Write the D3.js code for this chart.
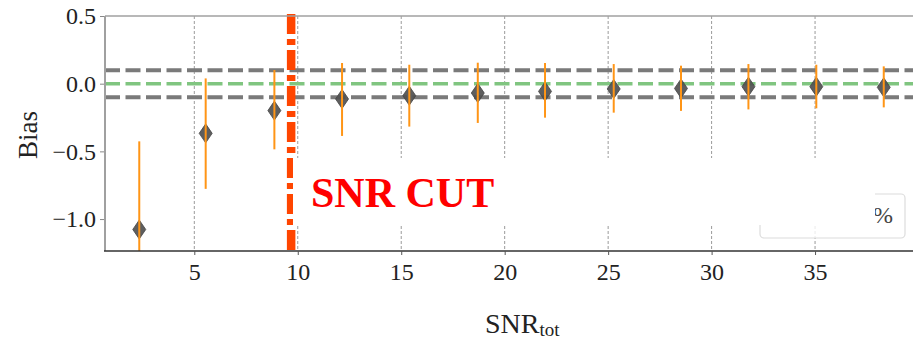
<!DOCTYPE html>
<html><head><meta charset="utf-8">
<script src="https://cdn.jsdelivr.net/npm/d3@7"></script>
<style>
html,body{margin:0;padding:0;background:#fff;}
svg{display:block;}
svg text{font-family:"Liberation Serif","DejaVu Serif",serif !important;}
</style></head>
<body><svg id="chart" width="913" height="343"></svg>
<script>
// ---- data ----
const snrTot = [2.34, 5.55, 8.87, 12.14, 15.39, 18.70, 21.95, 25.27, 28.52, 31.78, 35.06, 38.32];
const biasMean = [-1.077, -0.367, -0.199, -0.113, -0.089, -0.069, -0.057, -0.039, -0.035, -0.022, -0.022, -0.027];
const biasHigh = [-0.426, 0.039, 0.101, 0.153, 0.140, 0.155, 0.153, 0.145, 0.133, 0.145, 0.140, 0.128];
const biasLow = [-1.73, -0.777, -0.485, -0.386, -0.317, -0.290, -0.251, -0.214, -0.201, -0.190, -0.182, -0.175];
const xTickValues = [5, 10, 15, 20, 25, 30, 35];
const yTickValues = [-1.0, -0.5, 0.0, 0.5];
const toleranceLines = [-0.1, 0.1];
const zeroLine = [0.0];
const snrCut = [9.68];
const cutLabel = "SNR CUT";
const legendText = "%";

// ---- layout ----
const svg = d3.select("#chart");
const L = 105, R = 915, T = 16, B = 251;
const x = d3.scaleLinear().domain([0.684, 39.83]).range([L, R]);
const y = d3.scaleLinear().domain([-1.236, 0.5]).range([B, T]);
const serif = "'Liberation Serif','DejaVu Serif',serif";

svg.append("defs").append("clipPath").attr("id","clip")
  .append("rect").attr("x", L).attr("y", T - 3).attr("width", R - L).attr("height", B - T + 3);

// vertical grid
svg.append("g").selectAll("line").data(xTickValues).join("line")
  .attr("x1", d => x(d)).attr("x2", d => x(d))
  .attr("y1", T).attr("y2", B)
  .attr("stroke", "#9a9a9a").attr("stroke-width", 1).attr("stroke-dasharray", "3,2");

const plot = svg.append("g").attr("clip-path", "url(#clip)");

// tolerance lines
plot.selectAll(".tol").data(toleranceLines).join("line")
  .attr("x1", L).attr("x2", R).attr("y1", d => y(d)).attr("y2", d => y(d))
  .attr("stroke", "#7a7a7a").attr("stroke-width", 4).attr("stroke-dasharray", "15,5.5");
plot.selectAll(".zero").data(zeroLine).join("line")
  .attr("x1", L).attr("x2", R).attr("y1", d => y(d)).attr("y2", d => y(d))
  .attr("stroke", "#80c580").attr("stroke-width", 3.5).attr("stroke-dasharray", "15,5.5");

// markers
const pts = snrTot.map((s, i) => ({s, m: biasMean[i], hi: biasHigh[i], lo: biasLow[i]}));
plot.selectAll(".mk").data(pts).join("path")
  .attr("d", d => {
    const cx = x(d.s), cy = y(d.m), w = 6.5, h = 9.5;
    return `M${cx},${cy-h}L${cx+w},${cy}L${cx},${cy+h}L${cx-w},${cy}Z`;
  })
  .attr("fill", "#505050").attr("fill-opacity", 0.92)
  .attr("stroke", "#444").attr("stroke-width", 0.8);

// error bars
plot.selectAll(".eb").data(pts).join("line")
  .attr("x1", d => x(d.s)).attr("x2", d => x(d.s))
  .attr("y1", d => y(d.hi)).attr("y2", d => y(d.lo))
  .attr("stroke", "#ff9516").attr("stroke-width", 2);

// SNR cut line
svg.selectAll(".cut").data(snrCut).join("line")
  .attr("x1", d => x(d)).attr("x2", d => x(d))
  .attr("y1", 14).attr("y2", B)
  .attr("stroke", "#ff4500").attr("stroke-width", 8.5).attr("stroke-dasharray", "20,5,6,5");

// legend (partly hidden)
svg.append("rect").attr("x", 760).attr("y", 194).attr("width", 145).attr("height", 44)
  .attr("rx", 4).attr("fill", "#fff").attr("fill-opacity", 0.8)
  .attr("stroke", "#dcdcdc").attr("stroke-width", 1.2);
svg.append("text").attr("x", 893).attr("y", 223).attr("text-anchor", "end")
  .style("font-family", serif).attr("font-size", 24).attr("fill", "#444").text(legendText);

// white bbox of annotation
svg.append("rect").attr("x", 293).attr("y", 158).attr("width", 582).attr("height", 67).attr("fill", "#fff");
svg.append("text").attr("x", 311).attr("y", 207).style("font-family", serif)
  .attr("font-size", 42).attr("font-weight", "bold").attr("fill", "#ff0000").text(cutLabel);

// spines
svg.append("line").attr("x1", L).attr("x2", 913).attr("y1", T).attr("y2", T).attr("stroke", "#a0a0a0").attr("stroke-width", 1.5);
svg.append("line").attr("x1", L).attr("x2", L).attr("y1", T).attr("y2", B).attr("stroke", "#a0a0a0").attr("stroke-width", 2);
svg.append("line").attr("x1", L - 1).attr("x2", 913).attr("y1", B).attr("y2", B).attr("stroke", "#333").attr("stroke-width", 1.5);

// axes
const fmt = d3.format(".1f");
const yAxis = d3.axisLeft(y).tickValues(yTickValues).tickFormat(fmt).tickSize(4).tickPadding(4);
const gy = svg.append("g").attr("transform", `translate(${L - 1},0)`).call(yAxis)
  .attr("font-family", serif);
gy.select(".domain").remove();
gy.selectAll(".tick line").attr("stroke", "#888");
gy.selectAll(".tick text").attr("font-size", 24).attr("fill", "#222").style("font-family", serif);

const xAxis = d3.axisBottom(x).tickValues(xTickValues).tickFormat(d3.format("d")).tickSize(4).tickPadding(8);
const gx = svg.append("g").attr("transform", `translate(0,${B})`).call(xAxis)
  .attr("font-family", serif);
gx.select(".domain").remove();
gx.selectAll(".tick line").attr("stroke", "#555");
gx.selectAll(".tick text").attr("font-size", 24).attr("fill", "#222").style("font-family", serif);

// axis labels
svg.append("text").attr("transform", "translate(37,135) rotate(-90)").attr("text-anchor", "middle")
  .style("font-family", serif).attr("font-size", 27).attr("fill", "#222").text("Bias");
const xl = svg.append("text").attr("x", 485).attr("y", 333).style("font-family", serif)
  .attr("font-size", 28).attr("fill", "#222");
xl.append("tspan").text("SNR");
xl.append("tspan").attr("font-size", 19).attr("dy", 3).text("tot");
</script></body></html>
